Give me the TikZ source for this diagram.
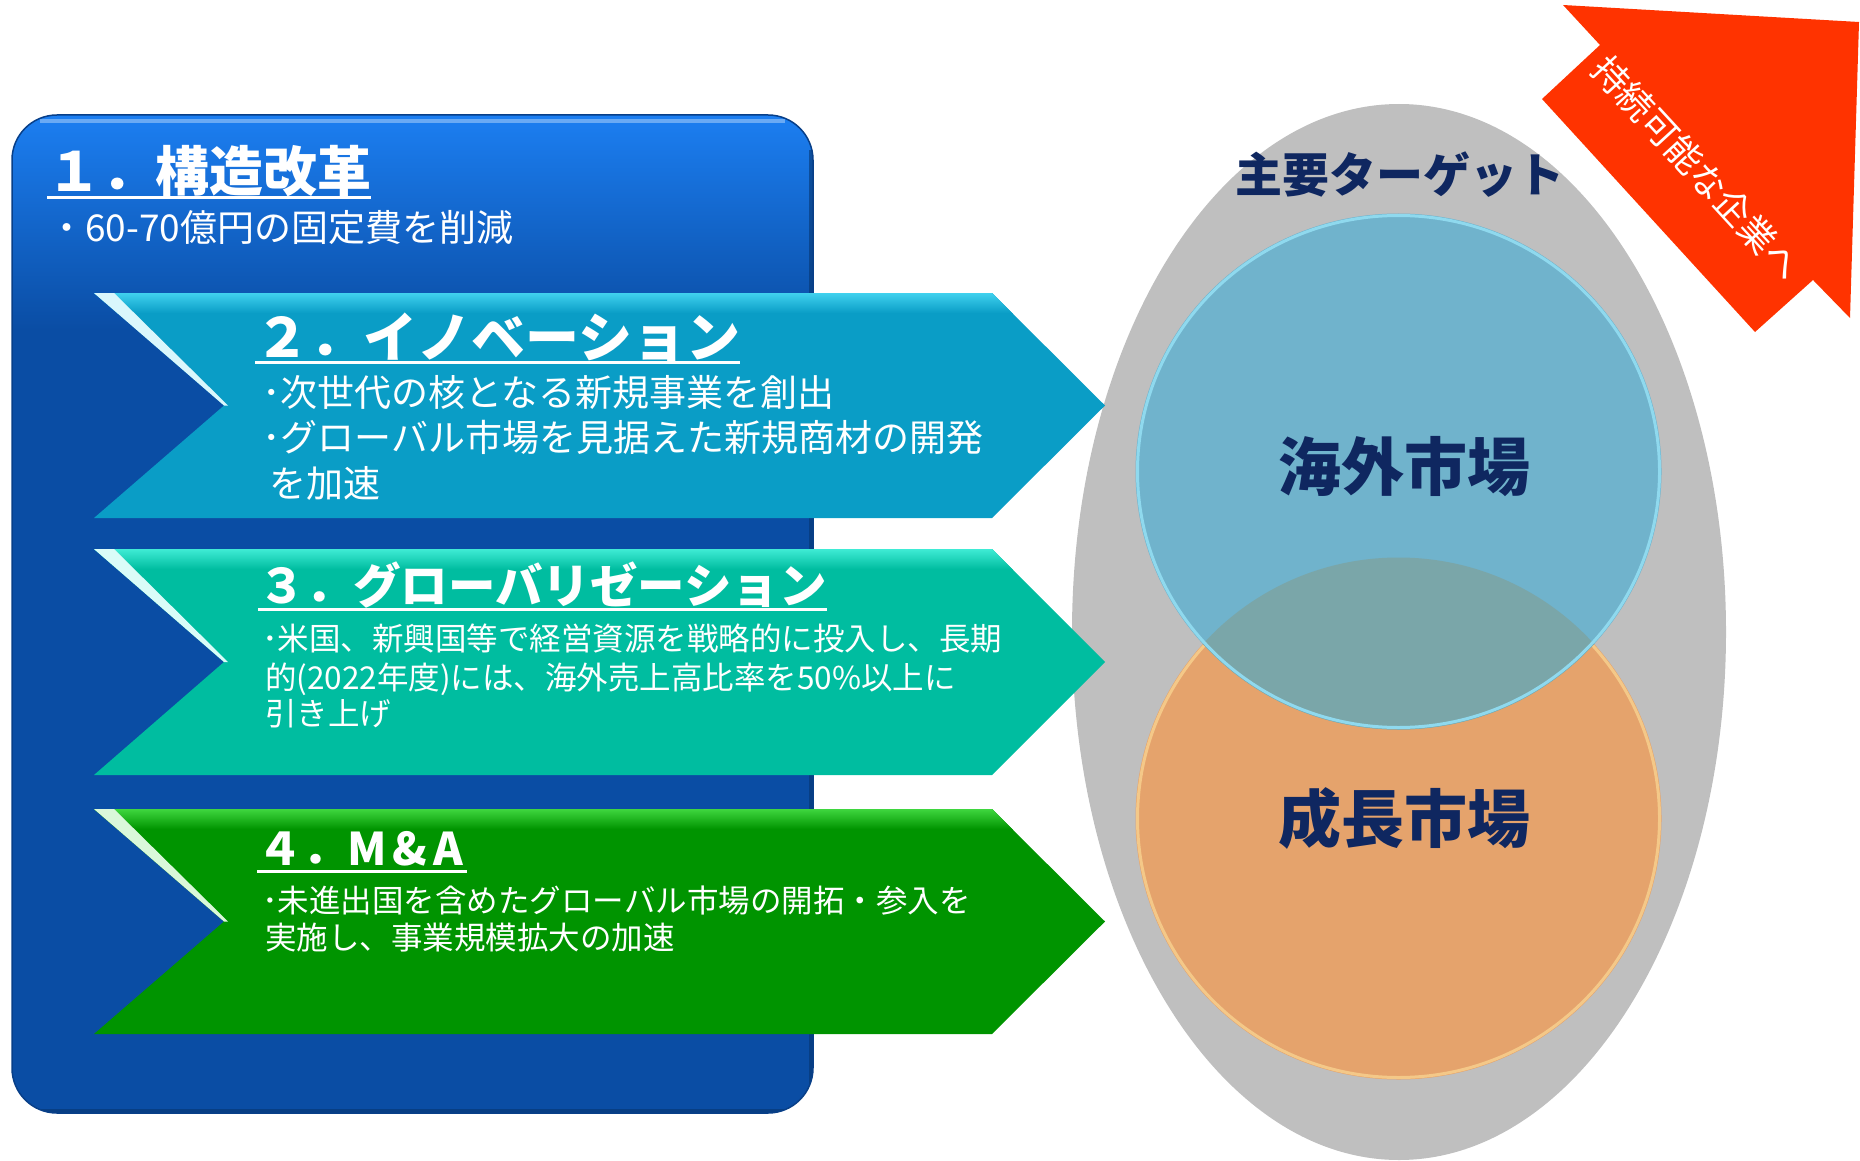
\documentclass[tikz,border=0pt]{standalone}
\usepackage{fontspec}
\newfontfamily\jp{Noto Sans CJK JP}
\definecolor{bbtop}{HTML}{1C7FF2}
\definecolor{bbmid}{HTML}{1367D6}
\definecolor{bbbot}{HTML}{0A4DA4}
\definecolor{bbedge}{HTML}{083F88}
\definecolor{bbshadow}{HTML}{06356F}
\definecolor{ctwo}{HTML}{0A9DC6}
\definecolor{ctwolt}{HTML}{45D6F2}
\definecolor{cthree}{HTML}{00BDA0}
\definecolor{cthreelt}{HTML}{45F0DA}
\definecolor{cfour}{HTML}{009400}
\definecolor{cfourlt}{HTML}{45DD45}
\definecolor{greyell}{HTML}{BFBFBF}
\definecolor{bluec}{HTML}{70B3CC}
\definecolor{bluecedge}{HTML}{8FD9EE}
\definecolor{orangec}{HTML}{E5A36C}
\definecolor{orangecedge}{HTML}{F4C888}
\definecolor{overlapc}{HTML}{7AA6A9}
\definecolor{navy}{HTML}{0F2760}
\definecolor{arrowred}{HTML}{FF3300}
\newcommand\mychev[4]{%
  \fill[#3] (94,#1) -- (992,#1) -- (1105,{(#1+#2)/2}) -- (992,#2) -- (94,#2) -- (224,{(#1+#2)/2}) -- cycle;
  \begin{scope}
    \clip (94,#1) -- (992,#1) -- (1105,{(#1+#2)/2}) -- (992,#2) -- (94,#2) -- (224,{(#1+#2)/2}) -- cycle;
    \shade[top color=#4, bottom color=#3] (80,#1-2) rectangle (1110,#1+20);
    \fill[white!80!#4] (94,#1) -- (114,#1) -- (228,{(#1+#2)/2}) -- (224,{(#1+#2)/2}) -- cycle;
  \end{scope}
}
\tikzset{
  ttl/.style={inner sep=0pt, anchor=base west, text=white, font=\jp\bfseries\fontsize{#1}{#1}\selectfont},
  bodytxt/.style={inner sep=0pt, anchor=base west, text=white, font=\jp\fontsize{#1}{#1}\selectfont},
  uline/.style={white, line width=3pt},
  bigtxt/.style={inner sep=0pt, text=navy, font=\jp\bfseries\fontsize{#1}{#1}\selectfont}
}
\begin{document}
\begin{tikzpicture}[x=1pt, y=-1pt]
\useasboundingbox (0,0) rectangle (1860,1161);
% right: target ellipse
\fill[greyell] (1399,632) ellipse [x radius=327pt, y radius=528pt];
\fill[orangec] (1398.5,818.5) ellipse [x radius=263pt, y radius=261pt];
\draw[orangecedge, line width=3pt] (1398.5,818.5) ellipse [x radius=261pt, y radius=259pt];
\fill[bluec] (1398.5,471.5) ellipse [x radius=263pt, y radius=258pt];
\begin{scope}
  \clip (1398.5,818.5) ellipse [x radius=263pt, y radius=261pt];
  \fill[overlapc] (1398.5,471.5) ellipse [x radius=263pt, y radius=258pt];
\end{scope}
\draw[bluecedge, line width=3pt] (1398.5,471.5) ellipse [x radius=261pt, y radius=256pt];
\node[bigtxt=47] (target) at (1400,175) {主要ターゲット};
\node[bigtxt=63] (overseas) at (1404,467) {海外市場};
\node[bigtxt=63] (growth) at (1404,818) {成長市場};
% red arrow
\fill[arrowred] (1563,5) -- (1859,22) -- (1850,318) -- (1813,280) -- (1755,332) -- (1542,99) -- (1600,45) -- cycle;
\node[inner sep=0pt, text=white, rotate=-47.4, font=\jp\fontsize{36}{36}\selectfont] (sustain) at (1697,168) {持続可能な企業へ};
% blue box
\fill[bbbot, rounded corners=45pt] (12,115) rectangle (813,1113);
\begin{scope}
  \clip[rounded corners=45pt] (12,115) rectangle (813,1113);
  \shade[top color=bbtop, middle color=bbmid, bottom color=bbbot] (0,113) rectangle (820,330);
  \draw[white, opacity=.35, line width=4pt] (40,121) -- (785,121);
  \draw[bbshadow, opacity=.6, line width=8pt] (813,150) -- (813,1113) -- (12,1113);
\end{scope}
\draw[bbedge, line width=1.5pt, rounded corners=45pt] (12,115) rectangle (813,1113);
\node[ttl=54] (t1) at (47,192) {１．構造改革};
\draw[uline] ([yshift=-6pt]t1.base west) -- ([yshift=-6pt]t1.base east);
\node[bodytxt=37] (s1) at (48,241) {・60-70億円の固定費を削減};
% chevrons
\mychev{293}{518}{ctwo}{ctwolt}
\mychev{549}{775}{cthree}{cthreelt}
\mychev{809}{1034}{cfour}{cfourlt}
% chevron 2 text
\node[ttl=54] (t2) at (255,357) {２．イノベーション};
\draw[uline] ([yshift=-5pt]t2.base west) -- ([yshift=-5pt]t2.base east);
\node[bodytxt=37] (b2a) at (262,406) {･次世代の核となる新規事業を創出};
\node[bodytxt=37] (b2b) at (262,451) {･グローバル市場を見据えた新規商材の開発};
\node[bodytxt=37] (b2c) at (269,497) {を加速};
% chevron 3 text
\node[ttl=47.5] (t3) at (258,603) {３．グローバリゼーション};
\draw[uline] ([yshift=-6pt]t3.base west) -- ([yshift=-6pt]t3.base east);
\node[bodytxt=31.5] (b3a) at (262,650) {･米国、新興国等で経営資源を戦略的に投入し、長期};
\node[bodytxt=31.5] (b3b) at (265,689) {的(2022年度)には、海外売上高比率を50\%以上に};
\node[bodytxt=31.5] (b3c) at (265,725) {引き上げ};
% chevron 4 text
\node[ttl=45] (t4) at (257,865) {４．M\kern6pt\&\kern6pt A};
\draw[uline] ([yshift=-6pt]t4.base west) -- ([xshift=4pt,yshift=-6pt]t4.base east);
\node[bodytxt=31.5] (b4a) at (262,912) {･未進出国を含めたグローバル市場の開拓・参入を};
\node[bodytxt=31.5] (b4b) at (265,949) {実施し、事業規模拡大の加速};
\end{tikzpicture}
\end{document}
